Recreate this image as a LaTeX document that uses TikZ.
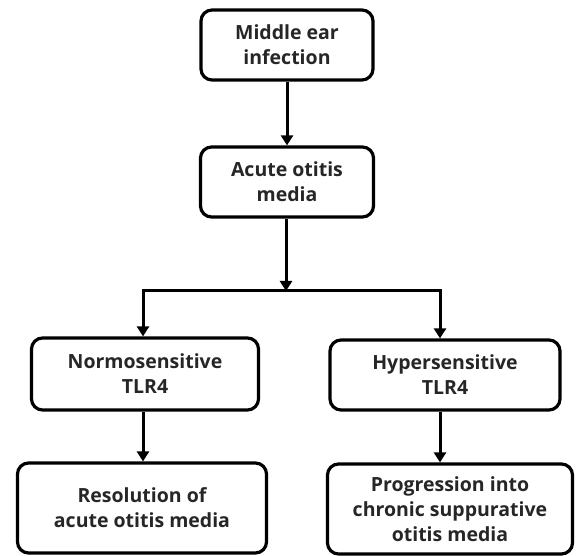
\documentclass[tikz,border=0pt]{standalone}
\usepackage{fontspec}
\setmainfont{Open Sans}
\usetikzlibrary{arrows.meta}
\begin{document}
\begin{tikzpicture}[x=1pt,y=-1pt,
  box/.style={draw=black,line width=3.2pt,rounded corners=11pt,align=center,
    font=\fontsize{19.5}{25}\selectfont\bfseries,text=black!85,inner sep=2pt},
  conn/.style={line width=3pt,-{Triangle[width=12pt,length=10pt]}},
  plain/.style={line width=3pt}]
\useasboundingbox (0,0) rectangle (576,556);
\node[box,minimum width=172pt,minimum height=70pt] (b1) at (287,45) {Middle ear\\infection};
\node[box,minimum width=173pt,minimum height=70pt] (b2) at (287,182) {Acute otitis\\media};
\node[box,minimum width=227pt,minimum height=72pt] (b3) at (145,374) {Normosensitive\\TLR4};
\node[box,minimum width=230pt,minimum height=70pt] (b4) at (445,375) {Hypersensitive\\TLR4};
\node[box,minimum width=249pt,minimum height=90pt] (b5) at (142,508) {Resolution of\\acute otitis media};
\node[box,minimum width=245pt,minimum height=90pt] (b6) at (450,509) {Progression into\\chronic suppurative\\otitis media};
\coordinate (j) at (286,291);
\coordinate (jl) at (143,291);
\coordinate (jr) at (440,291);
\draw[conn] (b1) -- (b2);
\draw[conn] (b2.south -| j) -- (j);
\draw[plain,line cap=rect] (jl) -- (jr);
\draw[conn] (jl) -- (jl |- b3.north);
\draw[conn] (jr) -- (jr |- b4.north);
\draw[conn] (b3.south -| jl) -- (jl |- b5.north);
\draw[conn] (b4.south -| jr) -- (jr |- b6.north);
\end{tikzpicture}
\end{document}
